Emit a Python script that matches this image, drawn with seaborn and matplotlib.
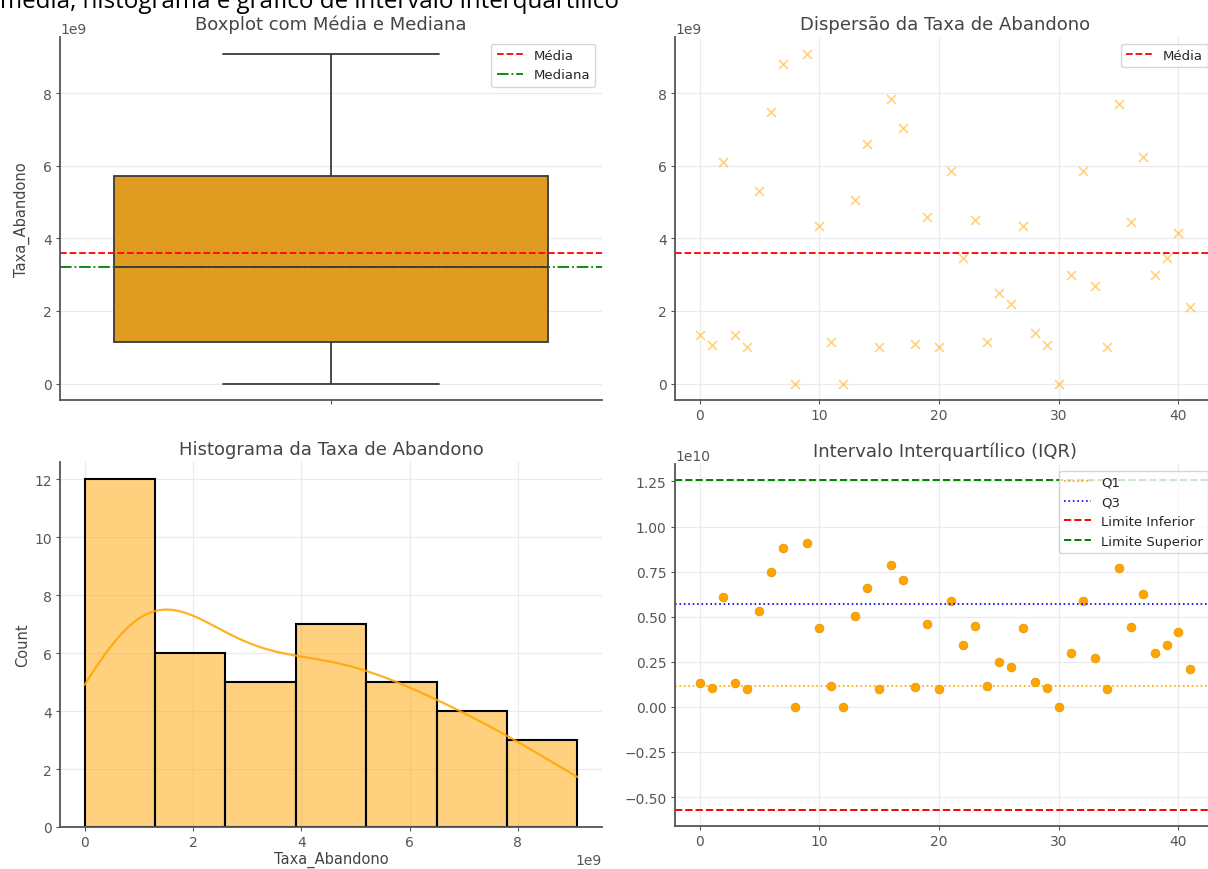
import numpy as np
import pandas as pd
import matplotlib
matplotlib.use("Agg")
import matplotlib.pyplot as plt
import seaborn as sns

# ---- data ----
indice = list(range(42))
taxa_abandono = [1.35e9, 1.05e9, 6.10e9, 1.35e9, 1.00e9, 5.30e9, 7.50e9, 8.80e9, 0.00e9, 9.10e9,
                 4.35e9, 1.15e9, 0.00e9, 5.05e9, 6.60e9, 1.00e9, 7.85e9, 7.05e9, 1.10e9, 4.60e9,
                 1.00e9, 5.85e9, 3.45e9, 4.50e9, 1.15e9, 2.50e9, 2.20e9, 4.35e9, 1.40e9, 1.05e9,
                 0.00e9, 3.00e9, 5.85e9, 2.70e9, 1.00e9, 7.70e9, 4.45e9, 6.25e9, 3.00e9, 3.45e9,
                 4.15e9, 2.10e9]
titulos = ["Boxplot com Média e Mediana", "Dispersão da Taxa de Abandono",
           "Histograma da Taxa de Abandono", "Intervalo Interquartílico (IQR)"]
texto_topo = "média, histograma e gráfico de intervalo interquartílico"

df = pd.DataFrame({"Indice": indice, "Taxa_Abandono": taxa_abandono})
media = df["Taxa_Abandono"].mean()
mediana = df["Taxa_Abandono"].median()
q1 = df["Taxa_Abandono"].quantile(0.25)
q3 = df["Taxa_Abandono"].quantile(0.75)
iqr = q3 - q1
lim_inf = q1 - 1.5 * iqr
lim_sup = q3 + 1.5 * iqr

sns.set_style("whitegrid")
plt.rcParams.update({
    "font.family": ["DejaVu Sans"],
    "axes.edgecolor": "#555555",
    "axes.linewidth": 1.3,
    "axes.labelcolor": "#444444",
    "axes.titlecolor": "#444444",
    "xtick.color": "#555555",
    "ytick.color": "#555555",
    "xtick.labelcolor": "#555555",
    "ytick.labelcolor": "#555555",
    "xtick.bottom": True,
    "ytick.left": True,
    "xtick.major.size": 3,
    "ytick.major.size": 3,
    "xtick.major.pad": 3,
    "ytick.major.pad": 3,
    "grid.color": "#ebebeb",
    "grid.linewidth": 0.9,
    "font.size": 10,
    "axes.titlesize": 13,
    "axes.labelsize": 10.5,
    "xtick.labelsize": 10,
    "ytick.labelsize": 10,
    "legend.fontsize": 9.5,
})

fig = plt.figure(figsize=(12.08, 8.70), dpi=100)
W, H = 1208, 870
def pos(x0, y0, x1, y1):
    return [x0 / W, (H - y1) / H, (x1 - x0) / W, (y1 - y0) / H]

ax1 = fig.add_axes(pos(60, 38, 602, 401))
ax2 = fig.add_axes(pos(675, 38, 1215, 401))
ax3 = fig.add_axes(pos(60, 463, 602, 828))
ax4 = fig.add_axes(pos(675, 465, 1215, 827))

# Boxplot
sns.boxplot(y=df["Taxa_Abandono"], color="orange", linecolor="#3a3a3a", linewidth=1.3, ax=ax1)
ax1.axhline(media, color="red", linestyle="--", linewidth=1.3, label="Média")
ax1.axhline(mediana, color="green", linestyle="-.", linewidth=1.3, label="Mediana")
ax1.set_title(titulos[0])
ax1.set_ylabel("Taxa_Abandono")
ax1.set_xlabel("")
ax1.legend(loc="upper right")

# Dispersão
sns.scatterplot(x=df["Indice"], y=df["Taxa_Abandono"], marker="x", color="orange",
                alpha=0.5, s=42, linewidth=1.2, ax=ax2)
ax2.axhline(media, color="red", linestyle="--", linewidth=1.3, label="Média")
ax2.set_title(titulos[1])
ax2.set_xlabel("")
ax2.set_ylabel("")
ax2.legend(loc="upper right")

# Histograma
sns.histplot(df["Taxa_Abandono"], bins=7, kde=True, color="orange", alpha=0.5,
             edgecolor="black", linewidth=1.5, line_kws={"linewidth": 1.6, "alpha": 0.85}, ax=ax3)
ax3.set_title(titulos[2])
ax3.set_xlabel("Taxa_Abandono", labelpad=1)
ax3.set_ylabel("Count")

# IQR
sns.scatterplot(x=df["Indice"], y=df["Taxa_Abandono"], color="orange", s=40,
                edgecolor="#e69500", linewidth=0.5, ax=ax4)
ax4.axhline(q1, color="orange", linestyle=":", linewidth=1.2, label="Q1")
ax4.axhline(q3, color="blue", linestyle=":", linewidth=1.2, label="Q3")
ax4.axhline(lim_inf, color="red", linestyle="--", linewidth=1.4, label="Limite Inferior")
ax4.axhline(lim_sup, color="green", linestyle="--", linewidth=1.4, label="Limite Superior")
ax4.set_title(titulos[3])
ax4.set_xlabel("")
ax4.set_ylabel("")
ax4.legend(loc="upper right")

for ax in (ax1, ax2, ax3, ax4):
    sns.despine(ax=ax)
for ax in (ax1, ax3):
    ax.yaxis.set_label_coords(-0.056, 0.5)

fig.text(0.0, 1 - 8 / H, texto_topo, fontsize=17.4, family=["Open Sans", "DejaVu Sans"],
         color="black", ha="left", va="baseline")

fig.savefig("out.png", dpi=100)
